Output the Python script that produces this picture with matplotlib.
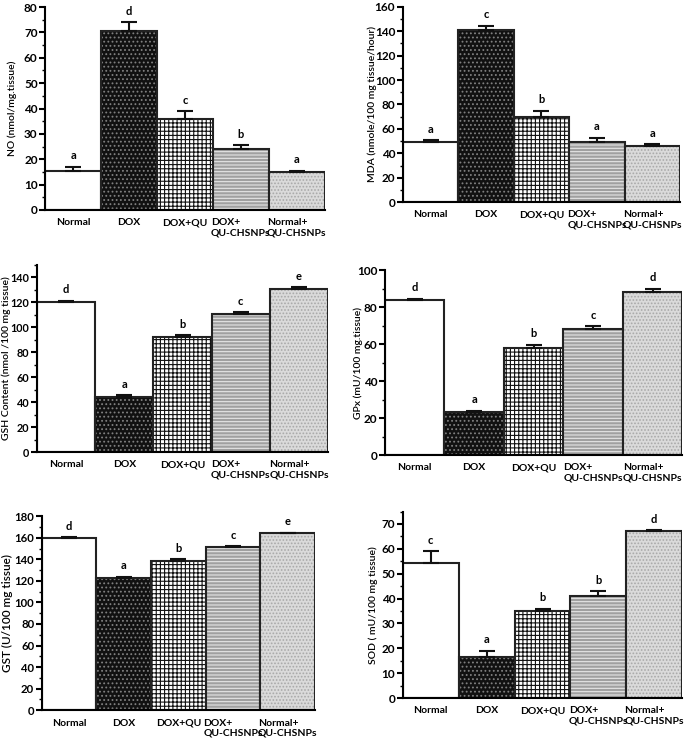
import numpy as np
import matplotlib.pyplot as plt
from matplotlib.ticker import MultipleLocator

plt.rcParams['font.family'] = ['Lato', 'DejaVu Sans']
plt.rcParams['hatch.linewidth'] = 0.8

groups = ['Normal', 'DOX', 'DOX+QU', 'DOX+\nQU-CHSNPs', 'Normal+\nQU-CHSNPs']

no_vals = [15.5, 70.5, 36, 24, 15]
no_err = [1.5, 3.5, 3, 1.5, 0.5]
no_letters = ['a', 'd', 'c', 'b', 'a']

mda_vals = [49, 141, 70, 49, 46]
mda_err = [1.5, 3.5, 5, 3.5, 1.5]
mda_letters = ['a', 'c', 'b', 'a', 'a']

gsh_vals = [120, 44, 92, 111, 131]
gsh_err = [1, 1.5, 1.5, 1, 1]
gsh_letters = ['d', 'a', 'b', 'c', 'e']

gpx_vals = [84, 23.5, 58, 68, 88]
gpx_err = [0.5, 0.5, 1.5, 1.5, 2]
gpx_letters = ['d', 'a', 'b', 'c', 'd']

gst_vals = [160, 123, 138, 151, 164]
gst_err = [0.5, 1, 2, 1, 0.5]
gst_letters = ['d', 'a', 'b', 'c', 'e']

sod_vals = [54.5, 16.5, 35, 41, 67]
sod_err = [4.5, 2.5, 1, 2, 0.5]
sod_letters = ['c', 'a', 'b', 'b', 'd']

# fill colour, hatch, hatch colour for each group
styles = [
    ('white', None, 'white'),
    ('#111111', '....', '#808080'),
    ('white', '++++', '#111111'),
    ('#a0a0a0', '-----', '#e6e6e6'),
    ('#dadada', '.....', '#a8a8a8'),
]

W, H = 685, 746


def bar_panel(rect, vals, errs, letters, ylabel, ymax, major, minor,
              xfs=7.5, yfs=8.5, lfs=7.5, lab_off=31):
    ax = fig.add_axes(rect)
    x = np.arange(len(vals))
    for i, v in enumerate(vals):
        fc, hatch, hc = styles[i]
        ax.bar(x[i], v, width=1.0, color=fc, edgecolor=hc, hatch=hatch, linewidth=0)
        ax.bar(x[i], v, width=1.0, fill=False, edgecolor='#222222', linewidth=1.5)
    ax.errorbar(x, vals, yerr=[np.zeros(len(errs)), errs], fmt='none', ecolor='#111111',
                elinewidth=1.5, capsize=6, capthick=1.5)
    for i, v in enumerate(vals):
        ax.annotate(letters[i], (x[i], v + errs[i]), xytext=(0, 4), textcoords='offset points',
                    ha='center', va='bottom', fontsize=8, fontweight='bold')
    ax.set_xlim(-0.5, len(vals) - 0.5)
    ax.set_ylim(0, ymax)
    ax.yaxis.set_major_locator(MultipleLocator(major))
    ax.yaxis.set_minor_locator(MultipleLocator(minor))
    ax.set_xticks(x)
    ax.set_xticklabels(groups, fontsize=xfs, fontweight='bold', multialignment='left', va='top')
    ax.tick_params(axis='x', length=0, pad=6)
    ax.tick_params(axis='y', which='major', direction='out', length=4, width=1.5,
                   labelsize=yfs, pad=1.5)
    ax.tick_params(axis='y', which='minor', direction='out', length=2, width=1)
    for lab in ax.get_yticklabels():
        lab.set_fontweight('bold')
    ax.spines['top'].set_visible(False)
    ax.spines['right'].set_visible(False)
    ax.spines['left'].set_linewidth(1.5)
    ax.spines['bottom'].set_linewidth(1.5)
    ax.set_ylabel(ylabel, fontsize=lfs, fontweight='semibold', va='center')
    ax.yaxis.set_label_coords(-lab_off / (rect[2] * W), 0.5)
    return ax


fig = plt.figure(figsize=(W / 100, H / 100), dpi=100)

bar_panel([0.066, 0.7185, 0.408, 0.272], no_vals, no_err, no_letters,
          'NO (nmol/mg.tissue)', 80, 10, 5, lab_off=33)
bar_panel([0.588, 0.729, 0.405, 0.262], mda_vals, mda_err, mda_letters,
          'MDA (nmole/100 mg tissue/hour)', 160, 20, 10, lab_off=31)
bar_panel([0.054, 0.394, 0.425, 0.251], gsh_vals, gsh_err, gsh_letters,
          'GSH Content (nmol /100 mg tissue)', 150, 20, 10, yfs=7.8, lab_off=31)
bar_panel([0.562, 0.390, 0.434, 0.248], gpx_vals, gpx_err, gpx_letters,
          'GPx (mU/100 mg.tissue)', 100, 20, 10, lab_off=27)
bar_panel([0.061, 0.048, 0.399, 0.260], gst_vals, gst_err, gst_letters,
          'GST (U/100 mg tissue)', 180, 20, 10, xfs=7.5, yfs=8.2, lfs=8.5, lab_off=34)
bar_panel([0.588, 0.0643, 0.408, 0.250], sod_vals, sod_err, sod_letters,
          'SOD ( mU/100 mg tissue)', 75, 10, 5, lab_off=30)

fig.savefig('out.png', dpi=100)
